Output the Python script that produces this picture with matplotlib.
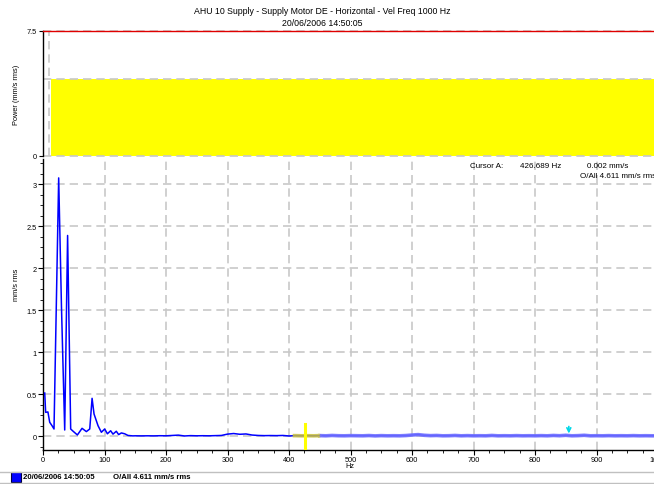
import matplotlib
matplotlib.use("Agg")
import matplotlib.pyplot as plt
from matplotlib.ticker import MultipleLocator, FixedLocator
from matplotlib.patches import Rectangle
from matplotlib.lines import Line2D

plt.rcParams['font.family'] = ['Liberation Sans', 'DejaVu Sans']

# ---------------- data ----------------
title_line1 = "AHU 10 Supply - Supply Motor DE - Horizontal - Vel Freq 1000 Hz"
title_line2 = "20/06/2006 14:50:05"

overall = 4.611          # O/All mm/s rms (top band height)
alarm_level = 7.5        # top panel max / alarm line
band_start = 12.5        # Hz where the yellow band begins
band_grid_x = 10         # dashed vertical in top panel

freqs = [2.8, 4.3, 8.0, 10.9, 14.7, 17.9, 25.5, 30.0, 35.3, 40.0, 45.0, 49.0, 55.9,
         63.5, 70.5, 76.0, 79.8, 83.0, 89.5, 94.9, 100.3, 104.7, 110.0, 113.8, 119.2,
         123.0, 127.4, 132.8, 138.2, 146.0,
         150, 160, 170, 180, 190, 200, 210, 220, 230, 240, 250, 260, 270, 280, 290,
         300, 310, 320, 330, 340, 350, 360, 370, 380, 390, 400, 410, 420, 430, 440,
         450, 460, 470, 480, 490, 500, 510, 520, 530, 540, 550, 560, 570, 580, 590,
         600, 610, 620, 630, 640, 650, 660, 670, 680, 690, 700, 710, 720, 730, 740,
         750, 760, 770, 780, 790, 800, 810, 820, 830, 840, 850, 860, 870, 880, 890,
         900, 910, 920, 930, 940, 950, 960, 970, 980, 990, 1000]
amps = [0.515, 0.285, 0.29, 0.167, 0.126, 0.087, 3.075, 1.55, 0.075, 2.39, 0.087, 0.06, 0.016,
        0.095, 0.056, 0.087, 0.452, 0.265, 0.126, 0.048, 0.087, 0.03, 0.066, 0.026, 0.06,
        0.02, 0.04, 0.03, 0.01, 0.005,
        0.006, 0.005, 0.006, 0.005, 0.007, 0.006, 0.010, 0.014, 0.004, 0.008, 0.006, 0.007, 0.006, 0.008, 0.010,
        0.026, 0.033, 0.024, 0.028, 0.015, 0.010, 0.008, 0.009, 0.008, 0.010, 0.004, 0.008, 0.006, 0.007, 0.006,
        0.008, 0.006, 0.010, 0.007, 0.006, 0.008, 0.007, 0.006, 0.009, 0.005, 0.008, 0.006, 0.007, 0.006, 0.009,
        0.015, 0.020, 0.012, 0.008, 0.010, 0.006, 0.007, 0.010, 0.006, 0.008, 0.006, 0.007, 0.006, 0.010, 0.006,
        0.007, 0.006, 0.008, 0.006, 0.007, 0.006, 0.008, 0.006, 0.010, 0.007, 0.012, 0.006, 0.008, 0.012, 0.006,
        0.007, 0.006, 0.008, 0.006, 0.007, 0.006, 0.008, 0.006, 0.007, 0.006, 0.006]

cursor_freq = 426.689
cursor_amp = 0.002
marker_freq = 855

x_ticks = [0, 100, 200, 300, 400, 500, 600, 700, 800, 900, 1000]
x_ticklabels = ["0", "100", "200", "300", "400", "500", "600", "700", "800", "900", "1000"]
y_ticks = [0, 0.5, 1, 1.5, 2, 2.5, 3]
y_ticklabels = ["0", "0.5", "1", "1.5", "2", "2.5", "3"]

# ---------------- figure ----------------
W, H = 654, 485
fig = plt.figure(figsize=(W / 100, H / 100), dpi=100)
fig.patch.set_facecolor('white')

def fx(px):
    return px / W

def fy(py):
    return 1 - py / H

grid_color = '#c8c8c8'
dash = (0, (5.0, 3.0))

# ---- top panel ----
ax1 = fig.add_axes([fx(43), fy(157), 615 / W, 125 / H])
ax1.set_xlim(0, 1000)
ax1.set_ylim(0, alarm_level)
for s in ['top', 'right', 'bottom']:
    ax1.spines[s].set_visible(False)
ax1.spines['left'].set_linewidth(1.0)
ax1.bar([band_start], [overall], width=1000 - band_start, align='edge',
        color='#ffff00', edgecolor='none', zorder=1)
for yv in [0, overall, alarm_level]:
    ax1.axhline(yv, color=grid_color, linestyle=dash, linewidth=1.2, zorder=2, clip_on=False)
ax1.axvline(band_grid_x, color=grid_color, linestyle=dash, linewidth=1.2, zorder=2)
ax1.plot([0, 1000], [alarm_level, alarm_level], color='#e00000', linewidth=1.0,
         zorder=3, clip_on=False)
ax1.set_xticks([])
ax1.yaxis.set_major_locator(FixedLocator([0, alarm_level]))
ax1.set_yticklabels(["0", "7.5"])
ax1.tick_params(axis='y', direction='out', length=3, width=0.8, labelsize=5.3, pad=1.5)

# ---- bottom panel ----
ax2 = fig.add_axes([fx(43), fy(451), 615 / W, (451 - 160) / H])
ax2.set_xlim(0, 1000)
ax2.set_ylim(-0.163, 3.30)
for s in ['top', 'right']:
    ax2.spines[s].set_visible(False)
ax2.spines['left'].set_linewidth(1.0)
ax2.spines['bottom'].set_linewidth(1.0)
ax2.set_xticks(x_ticks)
ax2.set_xticklabels(x_ticklabels)
ax2.set_yticks(y_ticks)
ax2.set_yticklabels(y_ticklabels)
ax2.xaxis.set_minor_locator(MultipleLocator(25))
ax2.yaxis.set_minor_locator(MultipleLocator(0.125))
ax2.tick_params(which='major', direction='out', length=3.5, width=0.8, labelsize=5.3, pad=1.0)
ax2.tick_params(which='minor', direction='out', length=2, width=0.6)
ax2.grid(which='major', color=grid_color, linestyle=dash, linewidth=1.2, zorder=0)
ax2.set_axisbelow(True)

ax2.plot(freqs, amps, color='#0000ff', linewidth=1.1, zorder=3)

# highlighted stretches of the trace
seg_y = [(f, a) for f, a in zip(freqs, amps) if 405 <= f <= 450]
ax2.plot([406] + [p[0] for p in seg_y] + [447], [0.008] + [p[1] for p in seg_y] + [0.008],
         color='#c8c040', linewidth=2.6, alpha=0.85, zorder=4, solid_capstyle='butt')
seg_b = [(f, a) for f, a in zip(freqs, amps) if f >= 447]
ax2.plot([p[0] for p in seg_b], [p[1] for p in seg_b],
         color='#7070ff', linewidth=2.6, alpha=0.9, zorder=4, solid_capstyle='butt')

# cursor marker
ax2.plot([cursor_freq, cursor_freq], [-0.15, 0.146], color='#ffff00', linewidth=2.2, zorder=5)
# peak arrow marker
ax2.annotate('', xy=(marker_freq, 0.0), xytext=(marker_freq, 0.15),
             arrowprops=dict(arrowstyle='->', color='#00d8e8', lw=1.2,
                             mutation_scale=7), zorder=6)

# ---------------- texts ----------------
fig.text(fx(322), fy(12), title_line1, ha='center', va='center', fontsize=6.3)
fig.text(fx(322), fy(24), title_line2, ha='center', va='center', fontsize=6.3)

fig.text(fx(17), fy(95), "Power (mm/s rms)", rotation=90, ha='center', va='center', fontsize=5.3)
fig.text(fx(17), fy(285), "mm/s rms", rotation=90, ha='center', va='center', fontsize=5.3)
fig.text(fx(350), fy(467), "Hz", ha='center', va='center', fontsize=5.3)

fig.text(fx(470), fy(166), "Cursor A:", ha='left', va='center', fontsize=5.8)
fig.text(fx(520), fy(166), f"{cursor_freq:.3f} Hz", ha='left', va='center', fontsize=5.8)
fig.text(fx(587), fy(166), f"{cursor_amp:.3f} mm/s", ha='left', va='center', fontsize=5.8)
fig.text(fx(580), fy(177), f"O/All {overall:.3f} mm/s rms", ha='left', va='center', fontsize=5.8)

# ---------------- legend strip ----------------
fig.add_artist(Line2D([0, 1], [fy(472.5), fy(472.5)], color='#c0c0c0', linewidth=1.0))
fig.add_artist(Line2D([0, 1], [fy(483.5), fy(483.5)], color='#c0c0c0', linewidth=1.0))
fig.add_artist(Rectangle((fx(11), fy(483)), 10 / W, 10 / H, facecolor='#0000ff',
                         edgecolor='#000040', linewidth=0.8, transform=fig.transFigure))
fig.text(fx(23), fy(478), title_line2, ha='left', va='center', fontsize=5.6, fontweight='bold')
fig.text(fx(113), fy(478), f"O/All {overall:.3f} mm/s rms", ha='left', va='center',
         fontsize=5.6, fontweight='bold')

fig.savefig("out.png", dpi=100)
